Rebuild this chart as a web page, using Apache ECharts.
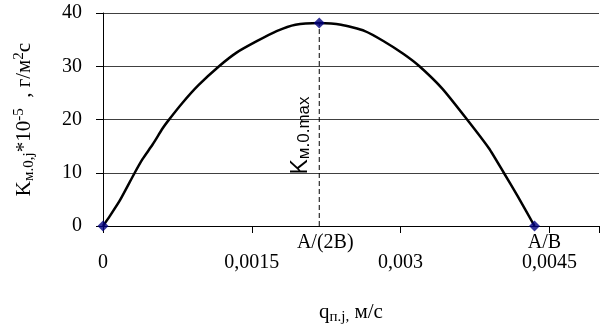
<!DOCTYPE html>
<html>
<head>
<meta charset="utf-8">
<script src="https://cdn.jsdelivr.net/npm/echarts@6/dist/echarts.min.js"></script>
<style>
  html, body { margin: 0; padding: 0; background: #fff; }
  #chart { width: 602px; height: 330px; }
</style>
</head>
<body>
<div id="chart"></div>
<script>
  // flow q (m/s) and K values
  var qValues = [0, 0.00007, 0.00017, 0.00032, 0.0004, 0.0005, 0.0006, 0.00065, 0.0008, 0.00096,
    0.00117, 0.00135, 0.00155, 0.00175, 0.00194, 0.00218, 0.0024, 0.00264, 0.00283, 0.00303,
    0.00319, 0.00342, 0.00367, 0.00389, 0.00404, 0.00418, 0.00435]
  var kValues = [0, 1.9, 4.8, 10, 12.6, 15.3, 18.3, 19.6, 23.1, 26.4,
    30, 32.6, 34.7, 36.6, 37.8, 38.1, 37.8, 36.6, 34.7, 32.3,
    30, 25.8, 20, 14.6, 10, 5.6, 0]
  // special points: origin, A/(2B) peak, A/B
  var qPeak = 0.00218
  var kPeak = 38.1
  var qEnd = 0.00435
  var xTickValues = [0, 0.0015, 0.003, 0.0045]
  var xTickLabels = ['0', '0,0015', '0,003', '0,0045']
  var yTickLabels = ['0', '10', '20', '30', '40']

  var serif = '"Liberation Serif", "Times New Roman", serif'
  var sans = '"Liberation Sans", Arial, sans-serif'

  var curve = qValues.map(function (q, i) { return [q, kValues[i]] })

  var chart = echarts.init(document.getElementById('chart'))
  var option = {
    backgroundColor: '#fff',
    animation: false,
    grid: { left: 103, top: 13, bottom: 100, right: -8 },
    xAxis: {
      type: 'value',
      min: 0,
      max: 0.005,
      interval: 0.0015,
      splitLine: { show: false },
      axisLine: { lineStyle: { color: '#000', width: 1 } },
      axisTick: { length: 7, lineStyle: { color: '#000' } },
      axisLabel: {
        margin: 27,
        color: '#000',
        fontFamily: serif,
        fontSize: 20,
        formatter: function (v) {
          for (var i = 0; i < xTickValues.length; i++) {
            if (Math.abs(v - xTickValues[i]) < 1e-9) return xTickLabels[i]
          }
          return ''
        }
      },
      name: '{a|q}{sub|п.j,}{a| м/с}',
      nameLocation: 'middle',
      nameGap: 74,
      nameTextStyle: {
        rich: {
          a: { fontFamily: serif, fontSize: 21, color: '#000' },
          sub: { fontFamily: serif, fontSize: 15, color: '#000', padding: [10, 0, 0, 0] }
        }
      }
    },
    yAxis: {
      type: 'value',
      min: 0,
      max: 40,
      interval: 10,
      splitLine: { lineStyle: { color: '#404040', width: 1 } },
      axisLine: { show: true, lineStyle: { color: '#000', width: 1 } },
      axisTick: { show: true, length: 7, lineStyle: { color: '#000' } },
      axisLabel: {
        margin: 21,
        color: '#000',
        fontFamily: serif,
        fontSize: 20,
        formatter: function (v) { return yTickLabels[Math.round(v / 10)] }
      },
      name: '{a|K}{sub|м.0,j}{a|*10}{sup|-5}{a|  , г/м}{sup|2}{a|с}',
      nameLocation: 'middle',
      nameGap: 66,
      nameTextStyle: {
        rich: {
          a: { fontFamily: serif, fontSize: 21, color: '#000' },
          sub: { fontFamily: serif, fontSize: 15, color: '#000', padding: [10, 0, 0, 0] },
          sup: { fontFamily: serif, fontSize: 15, color: '#000', padding: [0, 0, 10, 0] }
        }
      }
    },
    series: [
      {
        type: 'line',
        data: curve,
        symbol: 'none',
        smooth: 0.2,
        lineStyle: { color: '#000', width: 2.5 },
        z: 3
      },
      {
        type: 'line',
        data: [[qPeak, 0], [qPeak, kPeak]],
        symbol: 'none',
        lineStyle: { color: '#000', width: 1, type: [5, 3] },
        z: 2,
        markPoint: {
          symbol: 'circle',
          symbolSize: 0,
          silent: true,
          data: [
            {
              coord: [qPeak, 17],
              label: {
                show: true,
                position: 'inside',
                rotate: 90,
                offset: [0, -19],
                fontFamily: sans,
                formatter: '{k|K}{s|м.0.max}',
                rich: {
                  k: { fontFamily: sans, fontSize: 23, color: '#000' },
                  s: { fontFamily: sans, fontSize: 17, color: '#000', padding: [8, 0, 0, 0] }
                }
              }
            },
            {
              coord: [qPeak, 0],
              label: {
                show: true,
                position: 'inside',
                offset: [6, 17],
                formatter: 'A/(2B)',
                fontFamily: serif,
                fontSize: 20,
                color: '#000'
              }
            },
            {
              coord: [qEnd, 0],
              label: {
                show: true,
                position: 'inside',
                offset: [10, 17],
                formatter: 'A/B',
                fontFamily: serif,
                fontSize: 20,
                color: '#000'
              }
            }
          ]
        }
      },
      {
        type: 'scatter',
        data: [[0, 0], [qPeak, kPeak], [qEnd, 0]],
        symbol: 'diamond',
        symbolSize: 11,
        itemStyle: { color: '#000080' },
        z: 5
      }
    ]
  }
  chart.setOption(option)
</script>
</body>
</html>
